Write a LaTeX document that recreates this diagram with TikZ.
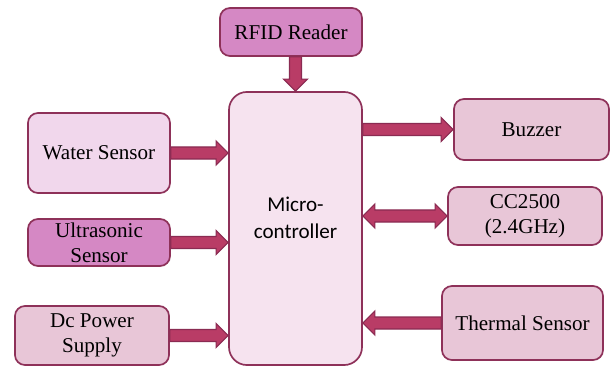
\documentclass[tikz,border=0pt]{standalone}
\usepackage{fontspec}
\setmainfont{Liberation Serif}
\newfontfamily\mcufont{Carlito}
\usetikzlibrary{calc}
\definecolor{edgecol}{HTML}{8E3159}
\definecolor{arrowfill}{HTML}{B93C66}
\definecolor{arrowedge}{HTML}{8A2B52}
\definecolor{orchidfill}{HTML}{D588C4}
\definecolor{palefill}{HTML}{F1D7EC}
\definecolor{mcufill}{HTML}{F6E3EF}
\definecolor{rosefill}{HTML}{E8C6D7}
\tikzset{
  % Peripheral blocks
  box/.style={draw=edgecol,line width=1.2pt,rounded corners=0.25cm,
              align=center,inner sep=2pt,font=\fontsize{15}{18}\selectfont},
  % Central controller
  mcu/.style={draw=edgecol,line width=1.2pt,rounded corners=0.45cm,fill=mcufill,
              minimum width=3.325cm,minimum height=6.825cm},
  mcutext/.style={align=center,inner sep=0pt,font=\mcufont\fontsize{15}{19}\selectfont},
  % Block arrows
  barrow/.style={draw=arrowedge,fill=arrowfill,line width=0.8pt,line join=miter}
}
\newcommand{\shaftw}{0.15cm}
\newcommand{\headw}{0.3cm}
\newcommand{\headl}{0.3cm}
% single block arrow from #1 to #2
\newcommand{\blockarrow}[2]{%
  \coordinate (ba-s) at (#1);
  \coordinate (ba-e) at (#2);
  \coordinate (ba-h) at ($(ba-e)!\headl!(ba-s)$);
  \draw[barrow] ($(ba-s)!\shaftw!90:(ba-e)$) -- ($(ba-h)!\shaftw!90:(ba-e)$)
    -- ($(ba-h)!\headw!90:(ba-e)$) -- (ba-e) -- ($(ba-h)!\headw!-90:(ba-e)$)
    -- ($(ba-h)!\shaftw!-90:(ba-e)$) -- ($(ba-s)!\shaftw!-90:(ba-e)$) -- cycle;
}
% double-headed block arrow between #1 and #2
\newcommand{\dblarrow}[2]{%
  \coordinate (ba-s) at (#1);
  \coordinate (ba-e) at (#2);
  \coordinate (ba-h) at ($(ba-e)!\headl!(ba-s)$);
  \coordinate (ba-g) at ($(ba-s)!\headl!(ba-e)$);
  \draw[barrow] (ba-s) -- ($(ba-g)!\headw!90:(ba-e)$) -- ($(ba-g)!\shaftw!90:(ba-e)$)
    -- ($(ba-h)!\shaftw!90:(ba-e)$) -- ($(ba-h)!\headw!90:(ba-e)$) -- (ba-e)
    -- ($(ba-h)!\headw!-90:(ba-e)$) -- ($(ba-h)!\shaftw!-90:(ba-e)$)
    -- ($(ba-g)!\shaftw!-90:(ba-e)$) -- ($(ba-g)!\headw!-90:(ba-e)$) -- cycle;
}

\begin{document}
\begin{tikzpicture}[x=0.025cm,y=-0.025cm]
  \useasboundingbox (0,0) rectangle (610,367);

  \node[mcu] (mcu) at (295.5,228.5) {};
  \node[mcutext] (mcutxt) at (295.5,218) {Micro-\\controller};

  % Left side
  \node[box,fill=orchidfill,minimum width=3.55cm,minimum height=1.2cm] (rfid) at (291,32) {RFID Reader};
  \node[box,fill=palefill,minimum width=3.55cm,minimum height=2.0cm] (wat) at (99,153) {Water Sensor};
  \node[box,fill=orchidfill,minimum width=3.55cm,minimum height=1.175cm] (ult) at (99,242.5) {Ultrasonic\\Sensor};
  \node[box,fill=rosefill,minimum width=3.85cm,minimum height=1.475cm] (dcp) at (92,335.5) {Dc Power\\Supply};

  % Right side
  \node[box,fill=rosefill,minimum width=3.875cm,minimum height=1.525cm] (buz) at (531.5,129.5) {Buzzer};
  \node[box,fill=rosefill,minimum width=3.85cm,minimum height=1.45cm] (cc) at (525,216) {CC2500\\(2.4GHz)};
  \node[box,fill=rosefill,minimum width=4.025cm,minimum height=1.85cm] (thr) at (522.5,323) {Thermal Sensor};

  % Inputs
  \blockarrow{mcu.north |- rfid.south}{mcu.north}
  \blockarrow{wat.east}{wat.east -| mcu.west}
  \blockarrow{ult.east}{ult.east -| mcu.west}
  \blockarrow{dcp.east}{dcp.east -| mcu.west}
  \blockarrow{thr.west}{thr.west -| mcu.east}

  % Outputs
  \blockarrow{mcu.east |- buz.west}{buz.west}
  \dblarrow{mcu.east |- cc.west}{cc.west}
\end{tikzpicture}
\end{document}
